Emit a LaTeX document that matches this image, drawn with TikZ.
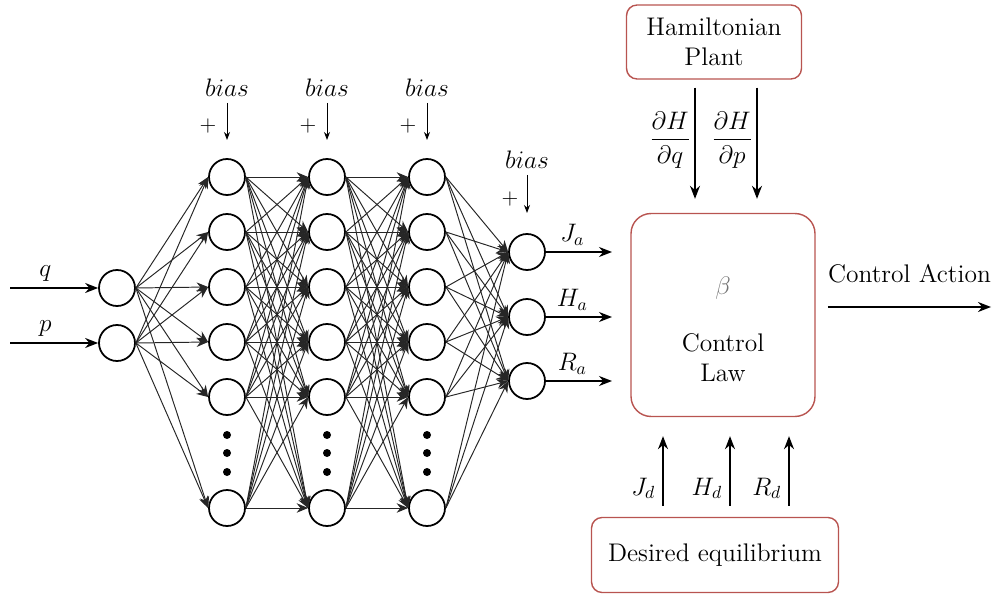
\documentclass[tikz,border=0pt]{standalone}
\usepackage{amsmath,amssymb}
\usepackage{xcolor}
\usepackage{tikz}
\usetikzlibrary{arrows.meta, positioning, calc}

\definecolor{boxred}{HTML}{B85450}

\begin{document}
\begin{tikzpicture}[
    x=0.02cm, y=-0.02cm,
    every node/.style={font=\fontsize{14.5}{17}\selectfont},
    neuron/.style={circle, draw, fill=white, line width=1pt, minimum size=0.72cm, inner sep=0pt},
    dotnode/.style={circle, fill, minimum size=0.16cm, inner sep=0pt},
    block/.style={rectangle, draw=boxred, line width=0.8pt, rounded corners=6pt, align=center},
    plus/.style={font=\fontsize{12.5}{14}\selectfont, inner sep=0pt},
    link/.style={-{Stealth[length=2.3mm, width=1.9mm]}, line width=0.55pt, black!85},
    arrow/.style={-{Stealth[length=2.6mm, width=2mm]}, line width=0.9pt},
    biasarrow/.style={-{Stealth[length=1.6mm, width=1.2mm]}, line width=0.5pt}
]
\useasboundingbox (0,0) rectangle (993,594);

% Input layer
\node[neuron] (in1) at (117,288) {};
\node[neuron] (in2) at (117,343) {};
\coordinate (qin) at (10,288);
\coordinate (pin) at (10,343);

% Hidden layers
\foreach \l/\x in {1/227,2/327,3/427}{
  \foreach \i/\y in {1/177,2/232,3/287,4/342,5/397,6/508}
    \node[neuron] (h\l-\i) at (\x,\y) {};
  \foreach \k/\y in {1/435,2/453,3/472}
    \node[dotnode] (dot\l-\k) at (\x,\y) {};
  % bias
  \node (bias\l) at (\x,88) {$bias$};
  \coordinate (bt\l) at (\x,140);
  \node[plus] (plus\l) at (\x-19,126) {+};
}

% Output layer
\node[neuron] (o1) at (527,252) {};
\node[neuron] (o2) at (527,317) {};
\node[neuron] (o3) at (527,381) {};
\node (bias4) at (527,160) {$bias$};
\coordinate (bt4) at (527,213);
\node[plus] (plus4) at (510,199) {+};
\coordinate (oe1) at (612,252);
\coordinate (oe2) at (612,317);
\coordinate (oe3) at (612,381);

% Plant, control law, equilibrium
\node[block, minimum width=3.5cm, minimum height=1.48cm] (plant) at (714,42) {Hamiltonian\\Plant};
\node[block, rounded corners=0.4cm, minimum width=3.68cm, minimum height=4.06cm] (law) at (723,315) {};
\node[text=black!55] (beta) at (723,288) {$\beta$};
\node[align=center] (lawtext) at (723,358) {Control\\Law};
\node[block, minimum width=4.94cm, minimum height=1.5cm] (equil) at (715,555) {Desired equilibrium};
\coordinate (act) at (991,307);

% Arrows
\draw[arrow] (qin) -- node[above, pos=0.4] {$q$} (in1.west);
\draw[arrow] (pin) -- node[above, pos=0.4] {$p$} (in2.west);
\foreach \l in {1,2,3,4}
  \draw[biasarrow] (bias\l) -- (bt\l);
\foreach \i in {1,2}
  \foreach \j in {1,...,6}
    \draw[link] (in\i.east) -- (h1-\j.west);
\foreach \l/\m in {1/2,2/3}
  \foreach \i in {1,...,6}
    \foreach \j in {1,...,6}
      \draw[link] (h\l-\i.east) -- (h\m-\j.west);
\foreach \i in {1,...,6}
  \foreach \j in {1,2,3}
    \draw[link] (h3-\i.east) -- (o\j.west);
\draw[arrow] (o1.east) -- node[above, pos=0.4] {$J_a$} (oe1);
\draw[arrow] (o2.east) -- node[above, pos=0.4] {$H_a$} (oe2);
\draw[arrow] (o3.east) -- node[above, pos=0.4] {$R_a$} (oe3);

\draw[arrow] ([shift={(-19,8)}]plant.south) -- node[left, pos=0.47, inner sep=2pt] {$\dfrac{\partial H}{\partial q}$} ([shift={(-28,-14)}]law.north);
\draw[arrow] ([shift={(43,8)}]plant.south) -- node[left, pos=0.47, inner sep=2pt] {$\dfrac{\partial H}{\partial p}$} ([shift={(34,-14)}]law.north);

\draw[arrow] ([shift={(-52,-11)}]equil.north) -- node[left, pos=0.25, inner sep=4pt] {$J_d$} ([shift={(-60,19)}]law.south);
\draw[arrow] ([shift={(15,-11)}]equil.north) -- node[left, pos=0.25, inner sep=4pt] {$H_d$} ([shift={(7,19)}]law.south);
\draw[arrow] ([shift={(74,-11)}]equil.north) -- node[left, pos=0.25, inner sep=4pt] {$R_d$} ([shift={(66,19)}]law.south);

\draw[arrow] ([xshift=7]law.east |- act) -- node[above=0.35cm] {Control Action} (act);

\end{tikzpicture}
\end{document}
